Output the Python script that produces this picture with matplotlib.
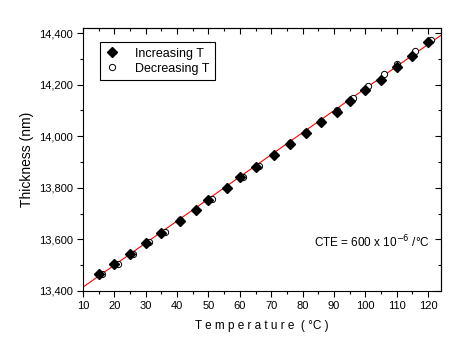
import matplotlib
matplotlib.use('Agg')
import matplotlib.pyplot as plt
from matplotlib.ticker import MultipleLocator, FuncFormatter

# ─── DATA ──────────────────────────────────────────────────────────────────────
inc_temp = [15, 20, 25, 30, 35, 41, 46, 50, 56, 60, 65, 71, 76, 81, 86, 91,
            95, 100, 105, 110, 115, 120]
inc_thick = [13465, 13503, 13542, 13585, 13626, 13672, 13713, 13753, 13799,
             13841, 13882, 13927, 13970, 14014, 14056, 14095, 14138, 14179,
             14220, 14268, 14312, 14366]

dec_temp = [16, 21, 26, 31, 36, 41, 46, 51, 56, 61, 66, 71, 76, 81, 86, 91,
            96, 101, 106, 110, 116, 121]
dec_thick = [13466, 13504, 13544, 13591, 13630, 13674, 13716, 13758, 13801,
             13843, 13885, 13929, 13973, 14018, 14060, 14100, 14147, 14195,
             14241, 14282, 14331, 14375]

fit_temp = [10, 124.3]
fit_thick = [13415, 14393]

plt.rcParams['font.family'] = ['Liberation Sans', 'DejaVu Sans']

fig = plt.figure(figsize=(4.62, 3.6), dpi=100)
ax = fig.add_axes([0.1797, 0.1917, 0.7759, 0.7306])

ax.plot(fit_temp, fit_thick, '-', color='red', linewidth=0.8, zorder=1)
ax.plot(dec_temp, dec_thick, 'o', markersize=4.5, markerfacecolor='white',
        markeredgecolor='black', markeredgewidth=0.7, linestyle='none',
        label='Decreasing T', zorder=2)
ax.plot(inc_temp, inc_thick, 'D', markersize=5, color='black',
        linestyle='none', label='Increasing T', zorder=3)

ax.set_xlim(10, 124.3)
ax.set_ylim(13400, 14420)

ax.xaxis.set_major_locator(MultipleLocator(10))
ax.xaxis.set_minor_locator(MultipleLocator(5))
ax.yaxis.set_major_locator(MultipleLocator(200))
ax.yaxis.set_minor_locator(MultipleLocator(100))
ax.yaxis.set_major_formatter(FuncFormatter(lambda v, p: f"{int(v):,}"))

ax.tick_params(which='both', direction='out', labelsize=8, width=0.8)
ax.tick_params(which='major', length=4)
ax.tick_params(which='minor', length=2.5)

for side in ('top', 'right'):
    if side == 'top':
        sec = ax.secondary_xaxis('top')
        sec.xaxis.set_major_locator(MultipleLocator(10))
        sec.xaxis.set_minor_locator(MultipleLocator(5))
    else:
        sec = ax.secondary_yaxis('right')
        sec.yaxis.set_major_locator(MultipleLocator(200))
        sec.yaxis.set_minor_locator(MultipleLocator(100))
    sec.tick_params(which='both', direction='in', labeltop=False,
                    labelright=False, width=0.8)
    sec.tick_params(which='major', length=4)
    sec.tick_params(which='minor', length=2.5)

ax.set_xlabel("T e m p e r a t u r e  ( °C )", fontsize=8.5, labelpad=6)
ax.set_ylabel("Thickness (nm)", fontsize=10, labelpad=3)

handles, labels = ax.get_legend_handles_labels()
leg = ax.legend(handles[::-1], labels[::-1], loc='upper left',
                bbox_to_anchor=(0.047, 0.947), fontsize=9, frameon=True,
                fancybox=False, edgecolor='black', framealpha=1,
                handlelength=1.0, handletextpad=1.4, borderpad=0.45,
                labelspacing=0.25, borderaxespad=0)
leg.get_frame().set_linewidth(0.8)

ax.text(0.643, 0.165, "CTE = 600 x 10$^{-6}$ /°C", transform=ax.transAxes,
        fontsize=8.5)

fig.savefig('out.png', dpi=100)
